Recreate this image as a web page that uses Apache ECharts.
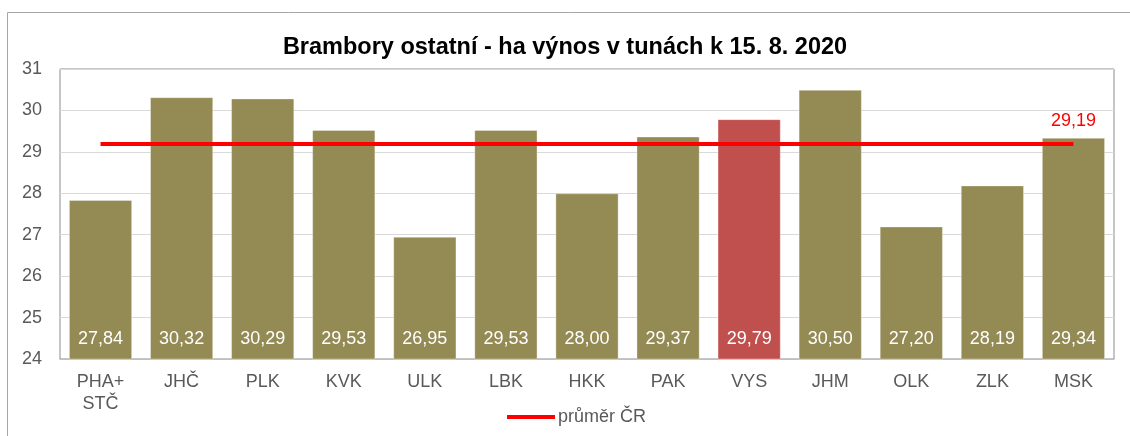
<!DOCTYPE html>
<html>
<head>
<meta charset="utf-8">
<script src="https://cdn.jsdelivr.net/npm/echarts@6/dist/echarts.min.js"></script>
<style>html,body{margin:0;padding:0;background:#fff}#c{width:1130px;height:436px}</style>
</head>
<body>
<div id="c"></div>
<script>
const categories = ['PHA+\nSTČ','JHČ','PLK','KVK','ULK','LBK','HKK','PAK','VYS','JHM','OLK','ZLK','MSK'];
const values = [27.84,30.32,30.29,29.53,26.95,29.53,28.00,29.37,29.79,30.50,27.20,28.19,29.34];
const highlighted = 'VYS';
const average = 29.19;
const yTicks = [24,25,26,27,28,29,30,31];
const titleText = 'Brambory ostatní - ha výnos v tunách k 15. 8. 2020';
const legendName = 'průměr ČR';

const fmt = v => v.toFixed(2).replace('.', ',');
const font = '"Liberation Sans", Arial, sans-serif';

const chart = echarts.init(document.getElementById('c'), null, {renderer:'canvas'});
chart.setOption({
  animation: false,
  backgroundColor: '#fff',
  textStyle: {fontFamily: font},
  graphic: [{
    type: 'rect', shape: {x: 7.5, y: 12.5, width: 1200, height: 600},
    style: {fill: 'none', stroke: '#a6a6a6', lineWidth: 1}, silent: true, z: -10
  }],
  title: {
    text: titleText, left: 'center', top: 31,
    textStyle: {fontFamily: font, fontSize: 23.5, fontWeight: 'bold', color: '#000'}
  },
  legend: {
    data: [{name: legendName, icon: 'rect'}],
    left: 502, top: 403, itemWidth: 48, itemHeight: 4, itemGap: 4,
    textStyle: {fontFamily: font, fontSize: 18, color: '#595959', padding: [0,0,0,-2]}
  },
  grid: {left: 60, right: 16, top: 69, bottom: 77, show: true, borderColor: '#8c8c8c', borderWidth: 1, containLabel: false},
  xAxis: {
    type: 'category', data: categories,
    axisLine: {show: true, lineStyle: {color: '#bfbfbf', width: 1}},
    axisTick: {show: false},
    axisLabel: {fontFamily: font, fontSize: 18, color: '#595959', margin: 12, lineHeight: 22, interval: 0}
  },
  yAxis: {
    type: 'value', min: yTicks[0], max: yTicks[yTicks.length-1], interval: 1,
    axisLine: {show: false}, axisTick: {show: false},
    splitLine: {lineStyle: {color: '#d9d9d9', width: 1}},
    axisLabel: {fontFamily: font, fontSize: 18, color: '#595959', margin: 18}
  },
  series: [{
    type: 'bar', barCategoryGap: '22%',
    data: values.map((v, i) => ({
      value: v,
      itemStyle: {color: categories[i] === highlighted ? '#c0504d' : '#948a54'}
    })),
    itemStyle: {borderColor: 'rgba(255,255,255,0.35)', borderWidth: 1},
    label: {
      show: true, position: 'insideBottom', distance: 11,
      formatter: p => fmt(p.value),
      fontFamily: font, fontSize: 18, color: '#fff'
    },
    z: 2
  }, {
    type: 'line', name: legendName,
    data: categories.map(() => average),
    symbol: 'circle', symbolSize: 0, showSymbol: true,
    lineStyle: {color: '#ff0000', width: 4},
    itemStyle: {color: '#ff0000'},
    label: {
      show: true, position: 'top', distance: 14,
      formatter: p => p.dataIndex === categories.length - 1 ? fmt(p.value) : '',
      fontFamily: font, fontSize: 18, color: '#ff0000'
    },
    z: 5
  }]
});
</script>
</body>
</html>
